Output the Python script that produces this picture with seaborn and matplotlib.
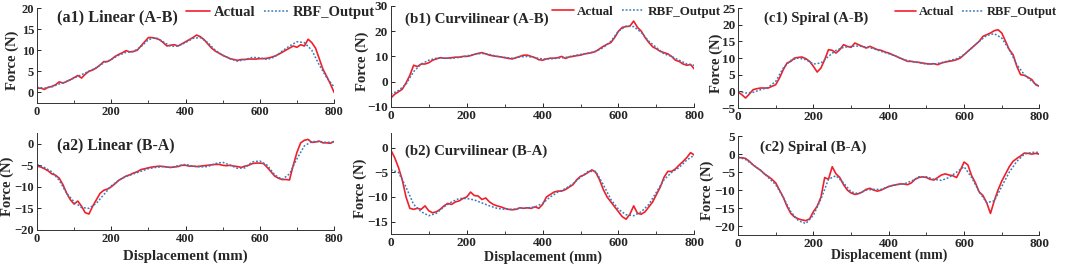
import numpy as np
import pandas as pd
import matplotlib
matplotlib.use("Agg")
from matplotlib import pyplot as plt
from matplotlib.ticker import MultipleLocator
import seaborn as sns

# displacement grids (mm)
x_act = np.arange(0, 801, 10)
x_rbf = np.arange(0, 801, 20)

# (a1) Linear A-B
a1_act = [1.0, 1.0, 0.7, 1.2, 1.4, 1.8, 2.5, 2.2, 2.6, 3.0, 3.5, 4.0, 3.4, 4.3, 5.0, 5.3, 5.8, 6.5, 7.3, 7.3,
          7.8, 8.5, 9.0, 9.4, 9.9, 9.6, 9.7, 10.0, 11.0, 12.0, 13.0, 13.0, 12.8, 12.5, 11.8, 11.0, 11.2, 11.3, 11.0, 11.5,
          12.0, 12.5, 13.0, 13.6, 13.2, 12.5, 11.5, 10.5, 9.8, 9.3, 8.8, 8.4, 8.0, 7.8, 7.6, 7.8, 7.8, 7.9, 7.9, 7.9,
          8.0, 8.0, 8.1, 8.3, 8.6, 9.0, 9.5, 10.0, 10.5, 11.0, 10.7, 11.3, 11.0, 12.6, 11.8, 10.5, 8.0, 5.5, 3.8, 2.0, 0.0]
a1_rbf = [1.2, 1.0, 1.3, 2.0, 2.6, 3.4, 4.2, 5.0, 5.9, 7.0, 7.8, 8.8, 9.5, 9.7, 10.8, 12.5, 13.0, 12.0, 10.9, 11.0,
          11.8, 12.8, 13.0, 11.8, 10.0, 8.8, 8.0, 7.4, 7.8, 8.3, 8.2, 7.8, 8.4, 9.8, 11.0, 12.0, 11.8, 10.0, 6.5, 3.5, 1.3]

# (a2) Linear B-A
a2_act = [-5.2, -5.4, -5.8, -6.3, -7.0, -7.3, -8.0, -9.5, -11.5, -13.0, -14.0, -13.3, -14.5, -16.0, -16.3, -14.5, -13.0, -11.5, -10.8, -10.5,
          -10.0, -9.3, -8.5, -8.0, -7.5, -7.2, -6.8, -6.5, -6.0, -5.8, -5.6, -5.4, -5.3, -5.2, -5.3, -5.4, -5.5, -5.4, -5.3, -5.0,
          -5.0, -5.2, -5.2, -5.3, -5.2, -5.1, -5.0, -4.9, -4.8, -4.8, -5.0, -5.1, -5.0, -5.2, -5.3, -5.5, -5.2, -5.0, -4.6, -4.5,
          -4.5, -4.6, -5.5, -6.5, -7.5, -8.0, -8.3, -8.3, -8.4, -5.0, -2.0, 0.2, 0.8, 1.0, 0.3, 0.4, 0.6, 0.2, 0.2, 0.1, 0.5]
a2_rbf = [-4.8, -5.5, -6.5, -8.5, -11.5, -13.5, -14.8, -15.0, -13.8, -11.8, -9.8, -8.5, -7.6, -7.0, -6.4, -5.8, -5.5, -5.3, -5.5, -5.1,
          -4.8, -5.2, -5.4, -5.3, -4.6, -4.3, -5.0, -5.7, -5.6, -4.2, -4.0, -5.0, -7.2, -8.3, -7.0, -3.5, -0.5, 0.5, 0.5, 0.3, 0.4]

# (b1) Curvilinear A-B
b1_act = [-6.5, -5.0, -4.0, -3.0, -0.5, 2.5, 6.5, 6.0, 7.0, 7.0, 7.5, 8.5, 9.0, 9.5, 9.3, 9.3, 9.5, 9.7, 9.7, 10.0,
          10.0, 10.3, 10.8, 11.2, 11.5, 11.0, 10.5, 10.2, 10.0, 9.8, 9.5, 9.2, 9.0, 9.5, 10.0, 10.5, 10.5, 10.0, 9.5, 8.7,
          8.5, 9.0, 9.3, 9.3, 9.5, 10.0, 9.2, 9.8, 10.0, 10.3, 10.5, 11.0, 11.2, 11.5, 12.0, 13.0, 14.0, 14.8, 15.5, 17.5,
          20.0, 21.5, 21.8, 22.0, 24.0, 21.5, 20.0, 17.5, 15.5, 13.8, 13.0, 12.0, 11.5, 11.0, 10.0, 8.5, 8.0, 7.0, 6.5, 6.8, 5.0]
b1_rbf = [-5.0, -3.5, -1.0, 4.0, 7.0, 8.5, 9.3, 9.3, 9.2, 9.6, 10.2, 10.8, 11.2, 10.8, 10.0, 9.6, 9.3, 9.8, 10.0, 9.5,
          9.0, 9.0, 9.3, 9.6, 10.2, 10.8, 11.3, 12.0, 13.5, 16.0, 20.0, 22.0, 21.8, 19.5, 16.0, 13.5, 11.0, 10.0, 8.5, 7.0, 6.5]

# (b2) Curvilinear B-A
b2_act = [-0.5, -2.0, -4.0, -6.5, -10.0, -12.3, -12.5, -12.3, -12.5, -11.8, -12.8, -13.2, -13.0, -12.5, -11.8, -11.3, -11.5, -11.0, -10.8, -10.3,
          -10.0, -9.0, -9.7, -9.8, -10.5, -10.2, -11.0, -11.5, -11.8, -12.0, -12.3, -12.5, -12.6, -12.5, -12.2, -12.3, -12.2, -12.3, -12.0, -12.3,
          -11.5, -10.0, -9.5, -9.0, -8.8, -8.8, -8.5, -8.0, -7.5, -6.5, -5.8, -5.5, -5.0, -4.5, -5.0, -6.5, -8.5, -10.0, -11.0, -12.0,
          -13.0, -14.0, -14.5, -13.5, -11.8, -13.3, -13.5, -13.0, -12.0, -11.0, -9.5, -8.0, -6.0, -4.8, -4.8, -4.3, -3.5, -2.8, -2.0, -1.0, -1.5]
b2_rbf = [-4.5, -5.0, -8.0, -11.5, -13.0, -13.8, -13.3, -12.0, -11.0, -10.3, -10.3, -10.6, -11.2, -11.8, -12.3, -12.5, -12.5, -12.3, -12.2, -12.0,
          -11.3, -10.0, -9.0, -8.3, -7.3, -6.0, -4.8, -4.8, -7.5, -10.5, -12.5, -13.6, -13.8, -13.0, -11.5, -9.0, -6.5, -5.0, -4.0, -2.5, -1.5]

# (c1) Spiral A-B
c1_act = [-0.2, -1.0, -2.0, -0.8, 0.5, 0.8, 1.0, 1.0, 1.0, 1.5, 2.0, 4.0, 6.5, 8.5, 9.0, 10.0, 10.2, 10.3, 9.8, 9.0,
          7.5, 5.8, 7.0, 9.5, 12.5, 12.3, 11.5, 12.5, 14.0, 13.5, 13.2, 14.5, 14.0, 13.5, 13.0, 13.5, 13.0, 12.5, 12.3, 11.8,
          11.5, 11.0, 10.5, 10.0, 9.5, 9.0, 9.0, 8.8, 8.7, 8.5, 8.3, 8.2, 8.3, 8.0, 8.5, 8.8, 9.0, 9.2, 9.5, 10.0,
          11.0, 12.0, 13.0, 14.0, 15.0, 16.5, 17.0, 17.5, 18.2, 18.5, 17.5, 15.0, 12.5, 11.0, 7.5, 5.0, 4.8, 4.2, 3.5, 2.0, 1.5]
c1_rbf = [0.0, -0.5, -0.3, 0.5, 1.2, 3.0, 7.0, 9.3, 10.0, 9.5, 8.2, 8.5, 10.5, 12.3, 13.2, 13.5, 13.6, 13.3, 12.8, 12.0,
          11.3, 10.5, 9.5, 9.0, 8.6, 8.2, 8.2, 8.6, 9.2, 9.8, 11.0, 13.0, 15.0, 16.8, 17.3, 16.0, 12.5, 8.0, 5.0, 3.0, 1.5]

# (c2) Spiral B-A
c2_act = [-1.0, -1.0, -1.2, -2.0, -3.0, -3.8, -4.5, -5.5, -6.2, -7.0, -8.0, -10.0, -12.0, -14.5, -16.5, -17.5, -18.0, -18.3, -18.5, -18.0,
          -16.0, -14.5, -12.0, -6.5, -7.0, -3.5, -5.5, -6.5, -8.5, -10.0, -10.8, -11.2, -11.0, -10.5, -9.8, -9.5, -10.0, -10.3, -10.0, -9.5,
          -9.0, -8.7, -8.5, -8.3, -8.3, -8.5, -8.0, -7.0, -6.5, -6.3, -6.5, -7.0, -7.2, -6.5, -5.8, -5.5, -5.8, -6.0, -6.5, -4.5,
          -2.2, -3.0, -6.0, -8.0, -10.5, -11.5, -13.5, -16.5, -13.0, -10.0, -7.5, -5.5, -3.5, -2.0, -1.2, -0.5, 0.3, 0.2, 0.0, 0.2, 0.0]
c2_rbf = [-0.8, -1.5, -3.0, -4.5, -6.5, -8.5, -12.0, -16.0, -18.5, -19.3, -17.0, -12.5, -7.0, -6.0, -8.0, -10.5, -11.0, -10.0, -9.8, -9.8,
          -9.0, -8.5, -8.3, -7.5, -6.3, -6.3, -7.0, -7.3, -6.5, -5.0, -3.5, -6.5, -10.5, -13.5, -13.0, -9.0, -5.0, -2.0, 0.0, 0.5, 0.5]

titles = ["(a1) Linear (A-B)", "(b1) Curvilinear (A-B)", "(c1) Spiral (A-B)",
          "(a2) Linear (B-A)", "(b2) Curvilinear (B-A)", "(c2) Spiral (B-A)"]
actual = [a1_act, b1_act, c1_act, a2_act, b2_act, c2_act]
rbf = [a1_rbf, b1_rbf, c1_rbf, a2_rbf, b2_rbf, c2_rbf]

sns.set_style("ticks")
plt.rcParams["font.family"] = ["Liberation Serif", "DejaVu Serif"]
plt.rcParams["font.weight"] = "bold"

fig = plt.figure(figsize=(10.65, 2.68), dpi=100)

# [left, bottom, width, height] in figure fraction
boxes = [[0.0347, 0.616, 0.279, 0.354], [0.367, 0.601, 0.285, 0.377], [0.693, 0.597, 0.283, 0.373],
         [0.0347, 0.142, 0.279, 0.362], [0.367, 0.127, 0.285, 0.377], [0.693, 0.123, 0.283, 0.369]]
ylims = [(-2.5, 20), (-10, 30), (-5, 25), (-20, 2.5), (-17.5, 3), (-22.5, 5)]
ysteps = [5, 10, 5, 5, 5, 5]
title_pos = [(0.067, 0.905), (0.046, 0.87), (0.086, 0.9), (0.067, 0.876), (0.046, 0.82), (0.073, 0.89)]
title_size = [11.7, 10.8, 10.5, 11.3, 10.7, 10.8]
tick_size = [9, 9.5, 9.5, 9, 9.5, 9.5]
ylab_x = [-0.061, -0.072, -0.05, -0.076, -0.078, -0.08]
xlab_y = [None, None, None, -0.2, -0.16, -0.135]
xlab_size = [None, None, None, 10.7, 10.2, 10.0]
leg_pos = [(0.5, 0.958), (0.53, 0.94), (0.52, 0.96)]
leg_size = [10.5, 9.4, 9]

for i in range(6):
    ax = fig.add_axes(boxes[i])
    ax.patch.set_visible(False)
    df_a = pd.DataFrame({"x": x_act, "y": actual[i]})
    df_r = pd.DataFrame({"x": x_rbf, "y": rbf[i]})
    sns.lineplot(data=df_a, x="x", y="y", ax=ax, color="#f0202a", linewidth=1.2, label="Actual")
    sns.lineplot(data=df_r, x="x", y="y", ax=ax, color="#3a7ab8", linewidth=1.1, linestyle=(0, (1.2, 1.2)), label="RBF_Output")
    ax.set_xlim(0, 800)
    ax.set_ylim(*ylims[i])
    ax.xaxis.set_major_locator(MultipleLocator(200))
    ax.xaxis.set_minor_locator(MultipleLocator(100))
    ax.yaxis.set_major_locator(MultipleLocator(ysteps[i]))
    ax.tick_params(which="major", direction="in", length=3, width=0.7, labelsize=tick_size[i], pad=2)
    ax.tick_params(which="minor", direction="in", length=2, width=0.6)
    for lab in ax.get_xticklabels() + ax.get_yticklabels():
        lab.set_fontweight("bold")
    sns.despine(ax=ax)
    for s in ["left", "bottom"]:
        ax.spines[s].set_linewidth(0.7)
        ax.spines[s].set_color("#333333")
    ax.text(title_pos[i][0], title_pos[i][1], titles[i], transform=ax.transAxes,
            ha="left", va="center", fontsize=title_size[i], fontweight="bold")
    ax.set_ylabel("Force (N)", fontsize=10.5, fontweight="bold")
    ax.yaxis.set_label_coords(ylab_x[i], 0.45)
    if xlab_y[i] is None:
        ax.set_xlabel("")
    else:
        ax.set_xlabel("Displacement (mm)", fontsize=xlab_size[i], fontweight="bold")
        ax.xaxis.set_label_coords(0.5, xlab_y[i])
    if i < 3:
        leg = ax.legend(loc="center left", bbox_to_anchor=leg_pos[i], ncol=2, frameon=False,
                        handlelength=1.7, handletextpad=0.25, columnspacing=0.6,
                        borderpad=0, borderaxespad=0, prop={"weight": "bold", "size": leg_size[i]})
        leg.set_zorder(10)
    else:
        ax.get_legend().remove()

fig.savefig("out.png", dpi=100)
